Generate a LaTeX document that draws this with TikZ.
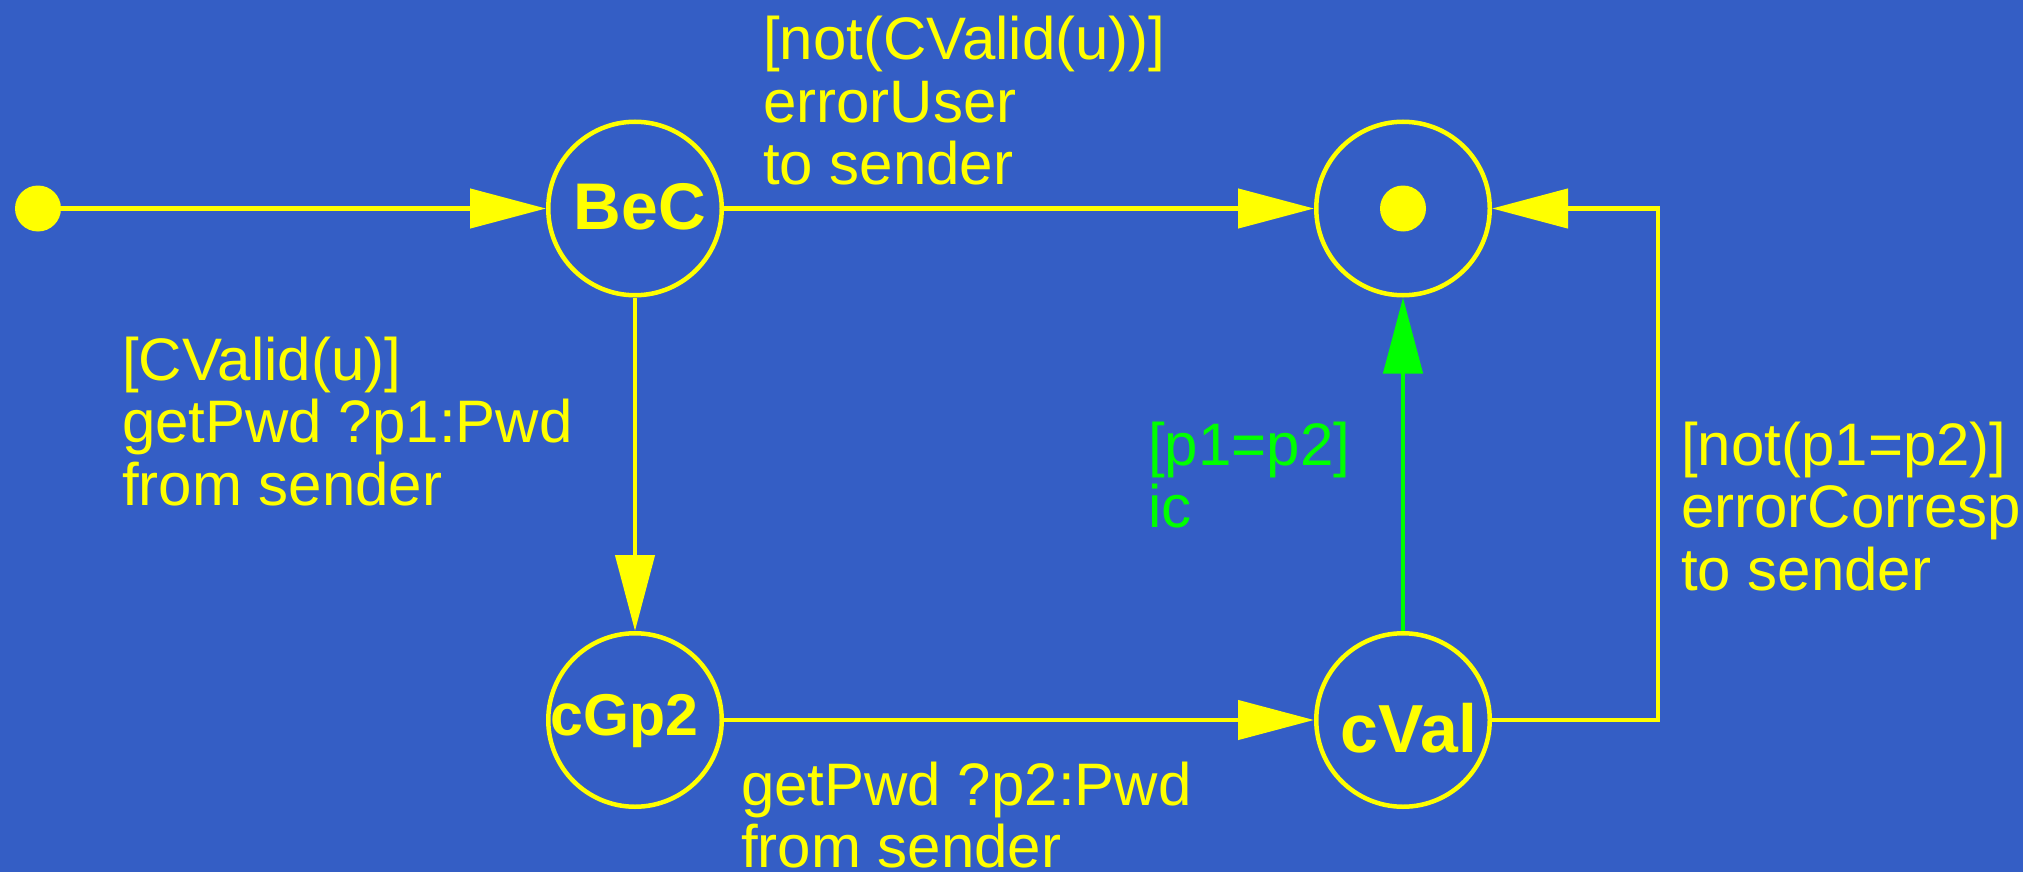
\documentclass[tikz,border=0pt]{standalone}
\usepackage{fontspec}
\setmainfont{Liberation Sans}
\usetikzlibrary{arrows.meta}
\definecolor{bgblue}{RGB}{52,94,197}
\definecolor{fyellow}{RGB}{255,255,0}
\definecolor{fgreen}{RGB}{0,255,0}
\tikzset{
  state/.style={circle,draw=fyellow,line width=4.5pt,minimum size=173.5pt,inner sep=0pt},
  dotnode/.style={circle,fill=fyellow,minimum size=46pt,inner sep=0pt},
  arr/.style={draw=fyellow,line width=4.5pt,-{Triangle[length=76pt,width=39pt]},fyellow},
  garr/.style={draw=fgreen,line width=4.5pt,-{Triangle[length=76pt,width=39pt]},fgreen},
  lbl/.style={anchor=base west,inner sep=0pt,text=fyellow,font=\fontsize{60}{62.5}\selectfont},
  glbl/.style={lbl,text=fgreen},
  sname/.style={anchor=base,inner sep=0pt,text=fyellow}
}
\begin{document}
\begin{tikzpicture}[x=1pt,y=-1pt]
\fill[bgblue] (0,0) rectangle (2023,872);
\useasboundingbox (0,0) rectangle (2023,872);

\node[dotnode] (init) at (38,208.5) {};
\node[state] (bec) at (635,208.5) {};
\node[state] (fin) at (1403,208.5) {};
\node[dotnode] (findot) at (1403,208.5) {};
\node[state] (cgp) at (635,720) {};
\node[state] (cval) at (1403,720) {};

\node[sname,font=\bfseries\fontsize{66}{66}\selectfont] (becl) at (640,229) {BeC};
\node[sname,font=\bfseries\fontsize{59}{59}\selectfont] (cgpl) at (624.5,735) {cGp2};
\node[sname,font=\bfseries\fontsize{68}{68}\selectfont] (cvall) at (1409,752) {cVal};

\coordinate (corner) at (1658,720);

\draw[arr] (init) -- (bec);
\draw[arr] (bec) -- (fin);
\draw[arr] (bec) -- (cgp);
\draw[arr] (cgp) -- (cval);
\draw[garr] (cval) -- (fin);
\draw[arr] (cval) -- (corner) |- (fin);

\node[lbl] (t1) at (763,60) {\vtop{\hbox{[not(CValid(u))]}\hbox{errorUser}\hbox{to sender}}};
\node[lbl] (t2) at (122,380) {\vtop{\hbox{[CValid(u)]}\hbox{getPwd ?p1:Pwd}\hbox{from sender}}};
\node[glbl] (t3) at (1148,465) {\vtop{\hbox{[p1=p2]}\hbox{ic}}};
\node[lbl] (t4) at (1681,465) {\vtop{\hbox{[not(p1=p2)]}\hbox{errorCorresp}\hbox{to sender}}};
\node[lbl] (t5) at (741,805) {\vtop{\hbox{getPwd ?p2:Pwd}\hbox{from sender}}};
\end{tikzpicture}
\end{document}
